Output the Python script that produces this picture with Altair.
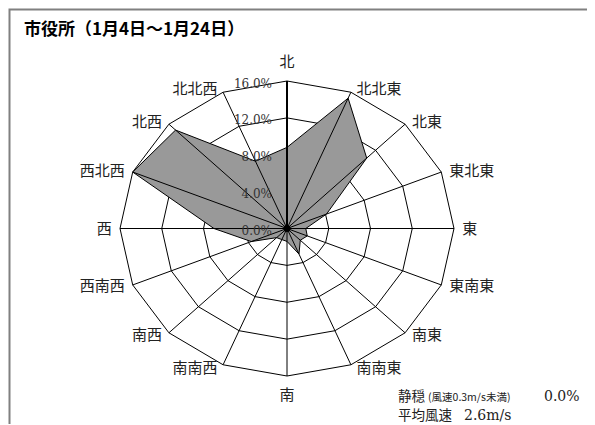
import altair as alt
import pandas as pd

# ---- data ----
directions = ["北", "北北東", "北東", "東北東", "東", "東南東", "南東", "南南東",
              "南", "南南西", "南西", "西南西", "西", "西北西", "北西", "北北西"]
freq = [8.8, 15.3, 10.8, 4.1, 1.8, 2.1, 1.8, 3.0,
        1.4, 1.3, 1.4, 3.7, 7.0, 16.0, 15.1, 7.9]
ring_values = [4, 8, 12, 16]
tick_values = [0, 4, 8, 12, 16]
tick_labels = ["0.0%", "4.0%", "8.0%", "12.0%", "16.0%"]
title_text = "市役所（1月4日～1月24日）"
calm_label = "静穏"
calm_note = "(風速0.3m/s未満)"
calm_value = "0.0%"
mean_label = "平均風速"
mean_value = "2.6m/s"

RMAX = 16
W, H = 334, 295
PAD = {"left": 112, "top": 73, "right": 133, "bottom": 48}
JP = "Noto Sans CJK JP"
SERIF = "DejaVu Serif"

n = len(directions)
poly_df = pd.DataFrame({"order": list(range(n + 1)),
                        "idx": [i % n for i in range(n + 1)],
                        "r": [freq[i % n] for i in range(n + 1)]})
ring_rows = []
for rv in ring_values:
    for i in range(n + 1):
        ring_rows.append({"ring": rv, "order": i, "idx": i % n, "r": rv})
ring_df = pd.DataFrame(ring_rows)
spoke_df = pd.DataFrame({"idx": list(range(n)), "r": [RMAX] * n})
label_df = pd.DataFrame({"idx": list(range(n)), "name": directions})
tick_df = pd.DataFrame({"v": tick_values, "label": tick_labels})
one = pd.DataFrame({"a": [0]})

xs = alt.Scale(domain=[-RMAX, RMAX], nice=False, zero=False)
ys = alt.Scale(domain=[-RMAX, RMAX], nice=False, zero=False)
X = lambda f: alt.X(f, type="quantitative", scale=xs, axis=None)
Y = lambda f: alt.Y(f, type="quantitative", scale=ys, axis=None)

polar = dict(x="datum.r*sin(datum.idx*PI/8)", y="datum.r*cos(datum.idx*PI/8)")

# page -> plot pixel helpers (plot origin on page = 8 + padding)
px = lambda v: v - 8 - PAD["left"]
py = lambda v: v - 8 - PAD["top"]

frame = alt.Chart(one).mark_rect(fill="transparent", stroke="#808080", strokeWidth=2).encode(
    x=alt.value(px(9.5)), x2=alt.value(W + 300), y=alt.value(py(9.5)), y2=alt.value(H + 300))

rings = alt.Chart(ring_df).transform_calculate(**polar).mark_line(
    color="black", strokeWidth=1).encode(
    x=X("x"), y=Y("y"), detail="ring:N", order="order:Q")

poly = alt.Chart(poly_df).transform_calculate(**polar).mark_line(
    fill="#999999", stroke="black", strokeWidth=1).encode(
    x=X("x"), y=Y("y"), order="order:Q")

spokes = alt.Chart(spoke_df).transform_calculate(
    x0="0", y0="0", **polar).mark_rule(color="black", strokeWidth=1).encode(
    x=X("x0"), y=Y("y0"), x2="x:Q", y2="y:Q")

nspoke = alt.Chart(spoke_df).transform_filter("datum.idx == 0").transform_calculate(
    x0="0", y0="0", **polar).mark_rule(color="black", strokeWidth=2).encode(
    x=X("x0"), y=Y("y0"), x2="x:Q", y2="y:Q")

center = alt.Chart(one).transform_calculate(x="0", y="0").mark_circle(
    size=50, color="black", opacity=1).encode(x=X("x"), y=Y("y"))

lab_common = dict(font=JP, fontSize=15, color="#222", baseline="middle")
lab_side = dict(x="(datum.r)*sin(datum.idx*PI/8)", y="(datum.r)*cos(datum.idx*PI/8)")
right_labels = alt.Chart(label_df).transform_filter("datum.idx > 0 && datum.idx < 8").transform_calculate(
    r="16.4").transform_calculate(**lab_side).mark_text(align="left", dx=4, **lab_common).encode(
    x=X("x"), y=Y("y"), text="name:N")
left_labels = alt.Chart(label_df).transform_filter("datum.idx > 8").transform_calculate(
    r="16.4").transform_calculate(**lab_side).mark_text(align="right", dx=-4, **lab_common).encode(
    x=X("x"), y=Y("y"), text="name:N")
ns_labels = alt.Chart(label_df).transform_filter("datum.idx == 0 || datum.idx == 8").transform_calculate(
    r="18.1").transform_calculate(**lab_side).mark_text(align="center", **lab_common).encode(
    x=X("x"), y=Y("y"), text="name:N")

ticks = alt.Chart(tick_df).transform_calculate(x0="0").mark_text(
    align="right", baseline="middle", dx=-15, dy=2.5, font=SERIF, fontSize=12,
    color="#333").encode(x=X("x0"), y=Y("v"), text="label:N")

title = alt.Chart(one).mark_text(text=title_text, align="left", baseline="middle",
                                 font=JP, fontSize=17, fontWeight="bold", color="black").encode(
    x=alt.value(px(24)), y=alt.value(py(30)))

t1 = alt.Chart(one).mark_text(text=calm_label, align="left", baseline="middle",
                              font=JP, fontSize=13.5, color="#222").encode(
    x=alt.value(px(398)), y=alt.value(py(397)))
t2 = alt.Chart(one).mark_text(text=calm_note, align="left", baseline="middle",
                              font=JP, fontSize=10.5, color="#222").encode(
    x=alt.value(px(428)), y=alt.value(py(398)))
t3 = alt.Chart(one).mark_text(text=calm_value, align="left", baseline="middle",
                              font=SERIF, fontSize=14, color="#222").encode(
    x=alt.value(px(544)), y=alt.value(py(397)))
t4 = alt.Chart(one).mark_text(text=mean_label, align="left", baseline="middle",
                              font=JP, fontSize=13.5, color="#222").encode(
    x=alt.value(px(398)), y=alt.value(py(416)))
t5 = alt.Chart(one).mark_text(text=mean_value, align="left", baseline="middle",
                              font=SERIF, fontSize=14, color="#222").encode(
    x=alt.value(px(464)), y=alt.value(py(416)))

chart = alt.layer(frame, rings, poly, spokes, nspoke, center, right_labels, left_labels,
                  ns_labels, ticks, title, t1, t2, t3, t4, t5).properties(
    width=W, height=H, padding=PAD,
    autosize=alt.AutoSizeParams(type="none"),
).configure_view(stroke=None)

chart.save("out.html", embed_options={"renderer": "svg", "actions": False})
